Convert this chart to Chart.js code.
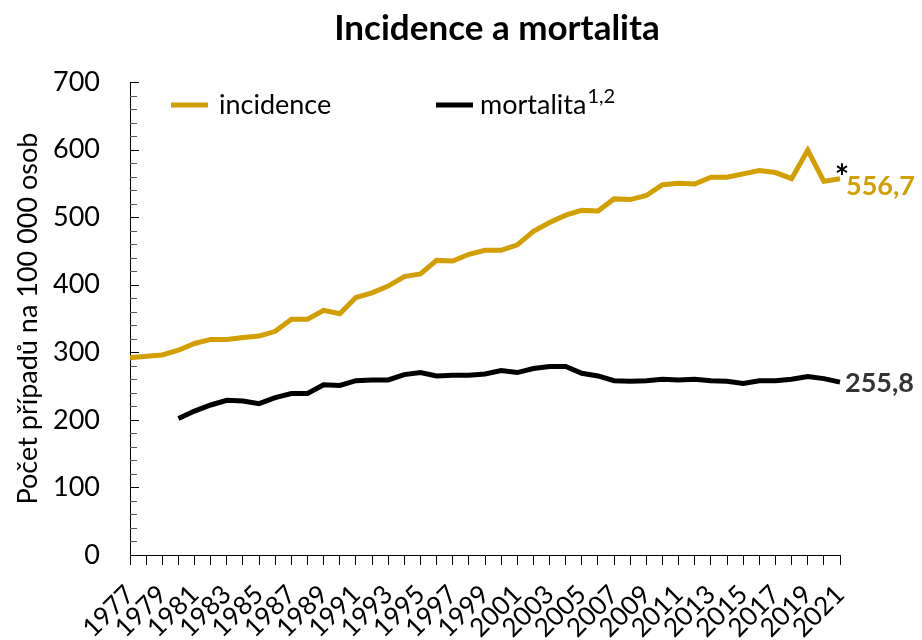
<!DOCTYPE html>
<html>
<head>
<meta charset="utf-8">
<script src="https://cdn.jsdelivr.net/npm/chart.js@4.4.1/dist/chart.umd.min.js"></script>
<style>
  html, body { margin: 0; padding: 0; background: #fff; }
  #wrap { width: 922px; height: 640px; }
</style>
</head>
<body>
<div id="wrap"><canvas id="graf" width="922" height="640"></canvas></div>
<script>
// roky 1977-2021
const years = [
  '1977','1978','1979','1980','1981','1982','1983','1984','1985','1986',
  '1987','1988','1989','1990','1991','1992','1993','1994','1995','1996',
  '1997','1998','1999','2000','2001','2002','2003','2004','2005','2006',
  '2007','2008','2009','2010','2011','2012','2013','2014','2015','2016',
  '2017','2018','2019','2020','2021'
];

// incidence na 100 000 osob
const incidence = [
  292, 294, 296, 303, 313, 319, 319, 322, 324, 331,
  349, 349, 362, 357, 381, 388, 398, 412, 416, 436,
  435, 445, 451, 451, 459, 479, 492, 503, 510, 509,
  527, 526, 532, 548, 550, 549, 559, 559, 564, 569,
  566, 557, 599, 553, 556.7
];

// mortalita na 100 000 osob (od roku 1980)
const mortalita = [
  null, null, null, 202, 213, 222, 229, 228, 224, 233,
  239, 239, 252, 251, 258, 259, 259, 267, 270, 265,
  266, 266, 268, 273, 270, 276, 279, 279, 269, 265,
  258, 257, 258, 260, 259, 260, 258, 257, 254, 258,
  258, 260, 264, 261, 255.8
];

const seriesNames = ['incidence', 'mortalita'];
const endLabels = ['556,7', '255,8'];
const yMax = 700;

const GOLD = 'rgb(210,158,0)';
const BLACK = '#000000';
const FONT = 'Lato, "Open Sans", sans-serif';

// popisky na konci car, hvezdicka, legenda a nadpis
const extras = {
  id: 'extras',
  afterDatasetsDraw(chart) {
    const ctx = chart.ctx;
    ctx.save();

    // hodnoty na konci
    const mInc = chart.getDatasetMeta(0).data;
    const pInc = mInc[mInc.length - 1];
    const mMor = chart.getDatasetMeta(1).data;
    const pMor = mMor[mMor.length - 1];

    ctx.font = 'bold 27px ' + FONT;
    ctx.textAlign = 'left';
    ctx.textBaseline = 'middle';
    ctx.fillStyle = GOLD;
    ctx.fillText(endLabels[0], pInc.x + 6, pInc.y + 7);
    ctx.fillStyle = '#333333';
    ctx.fillText(endLabels[1], pMor.x + 5, pMor.y + 1);

    ctx.fillStyle = '#000';
    ctx.font = 'bold 34px ' + FONT;
    ctx.textAlign = 'center';
    ctx.fillText('*', pInc.x + 2, pInc.y - 1);

    // legenda
    const legY = 105;
    ctx.lineWidth = 5;
    ctx.strokeStyle = GOLD;
    ctx.beginPath(); ctx.moveTo(171, legY); ctx.lineTo(208, legY); ctx.stroke();
    ctx.strokeStyle = BLACK;
    ctx.beginPath(); ctx.moveTo(436, legY); ctx.lineTo(473, legY); ctx.stroke();

    ctx.fillStyle = '#000';
    ctx.textAlign = 'left';
    ctx.font = '27px ' + FONT;
    ctx.fillText(seriesNames[0], 219, legY);
    ctx.fillText(seriesNames[1], 480, legY);
    const w = ctx.measureText(seriesNames[1]).width;
    ctx.font = '20px ' + FONT;
    ctx.fillText('1,2', 480 + w + 1, legY - 8);

    // nadpis
    ctx.font = 'bold 35px ' + FONT;
    ctx.textAlign = 'center';
    ctx.fillText('Incidence a mortalita', 497, 29);

    // vnitrni carky na ose y
    const ys = chart.scales.y;
    const left = chart.chartArea.left;
    ys.ticks.forEach(t => {
      const py = Math.round(ys.getPixelForValue(t.value)) + 0.5;
      const major = t.value % 100 === 0;
      ctx.strokeStyle = major ? '#000' : '#555';
      ctx.lineWidth = 1;
      ctx.beginPath();
      ctx.moveTo(left, py);
      ctx.lineTo(left + (major ? 9 : 7), py);
      ctx.stroke();
    });

    ctx.restore();
  }
};

const ctx = document.getElementById('graf').getContext('2d');
new Chart(ctx, {
  type: 'line',
  data: {
    labels: years,
    datasets: [
      {
        label: seriesNames[0],
        data: incidence,
        borderColor: GOLD,
        backgroundColor: GOLD,
        borderWidth: 5,
        pointRadius: 0,
        tension: 0
      },
      {
        label: seriesNames[1],
        data: mortalita,
        borderColor: BLACK,
        backgroundColor: BLACK,
        borderWidth: 5,
        pointRadius: 0,
        tension: 0
      }
    ]
  },
  options: {
    responsive: false,
    animation: false,
    devicePixelRatio: 1,
    layout: { padding: { top: 82, right: 82, left: 0, bottom: 0 } },
    plugins: {
      legend: { display: false },
      title: { display: false },
      tooltip: { enabled: false }
    },
    scales: {
      x: {
        offset: false,
        afterFit(scale) { scale.height = 85; },
        grid: {
          drawOnChartArea: false,
          drawTicks: true,
          tickLength: 10,
          color: '#000'
        },
        border: { display: true, color: '#000', width: 1 },
        ticks: {
          autoSkip: false,
          maxRotation: 45,
          minRotation: 45,
          padding: 14,
          color: '#000',
          font: { family: FONT, size: 26 },
          callback: function(val, i) {
            return i % 2 === 0 ? years[i] : '';
          }
        }
      },
      y: {
        min: 0,
        max: yMax,
        afterFit(scale) { scale.width = 130; },
        grid: { drawOnChartArea: false, drawTicks: false },
        border: { display: true, color: '#000', width: 1 },
        title: {
          display: true,
          text: 'Počet případů na 100 000 osob',
          color: '#000',
          font: { family: FONT, size: 27 },
          padding: { top: 12, bottom: 0 }
        },
        ticks: {
          stepSize: 20,
          autoSkip: false,
          padding: 30,
          color: '#000',
          font: { family: FONT, size: 27 },
          callback: function(v) {
            return v % 100 === 0 ? v : '';
          }
        }
      }
    }
  },
  plugins: [extras]
});
</script>
</body>
</html>
